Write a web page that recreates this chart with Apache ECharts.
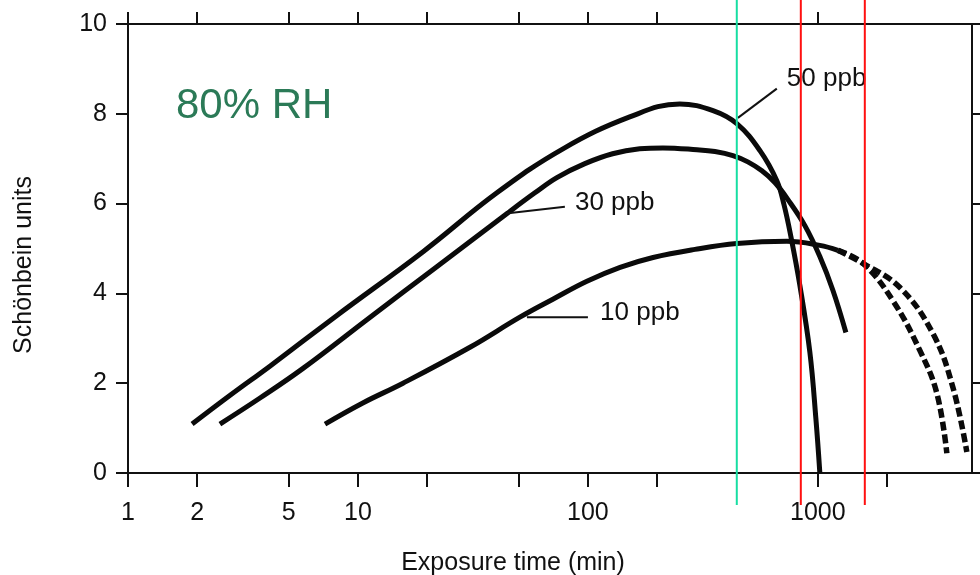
<!DOCTYPE html>
<html>
<head>
<meta charset="utf-8">
<script src="https://cdn.jsdelivr.net/npm/echarts@6/dist/echarts.min.js"></script>
<style>
  html, body { margin: 0; padding: 0; background: #ffffff; }
  #chart { width: 980px; height: 575px; }
</style>
</head>
<body>
<div id="chart"></div>
<script>
// Schönbein response vs. exposure time (log minutes) at 80% RH
const ppb50 = [
  [1.90, 1.09], [2.78, 1.73], [4.14, 2.38], [8.10, 3.51], [19.2, 4.93],
  [40.2, 6.24], [77.9, 7.22], [152, 7.93], [251, 8.22], [350, 8.07],
  [444, 7.78], [560, 7.18], [663, 6.51], [712, 5.98], [763, 5.27],
  [835, 4.18], [923, 2.69], [980, 1.22], [1020, 0]
];
const ppb30 = [
  [2.51, 1.09], [3.75, 1.67], [5.77, 2.33], [11.3, 3.47], [22.1, 4.60],
  [44.5, 5.78], [58.8, 6.24], [73.3, 6.58], [97.0, 6.89], [128, 7.11],
  [168, 7.22], [212, 7.24], [298, 7.20], [357, 7.16], [427, 7.07],
  [496, 6.93], [571, 6.73], [650, 6.47], [741, 6.09], [878, 5.51],
  [1020, 4.82], [1162, 4.07], [1324, 3.13]
];
const ppb10 = [
  [7.19, 1.09], [10.5, 1.56], [15.7, 2.00], [30.7, 2.80], [50.6, 3.47],
  [70.4, 3.87], [99, 4.27], [138, 4.58], [192, 4.80], [292, 4.98],
  [444, 5.11], [733, 5.16], [1020, 5.07], [1222, 4.96]
];
// extrapolated tails of the 10 ppb curve
const ppb10TailA = [[1222, 4.96], [1570, 4.67], [2119, 3.84], [2776, 2.73], [3290, 1.78], [3638, 0.44]];
const ppb10TailB = [[1222, 4.96], [1570, 4.67], [2274, 4.13], [3162, 3.11], [3864, 1.91], [4444, 0.47]];

// axis ticks and labels
const xTickBottom = [1, 2, 5, 10, 20, 50, 100, 200, 1000, 2000];
const xTickTop = [1, 2, 5, 10, 20, 50, 100, 200, 1000];
const xLabels = [1, 2, 5, 10, 100, 1000];
const xMin = 1, xMax = 4680;

// vertical time markers
const markerTimes = [444, 843, 1600];
const markerColors = ['#17dea2', '#ff1010', '#ff1010'];

// curve annotations
const labelNames = ['50 ppb', '30 ppb', '10 ppb'];
const labelAt = [[733, 8.78], [87.8, 6.02], [113, 3.56]];
const leaderFrom = [[663, 8.56], [79.4, 5.93], [100, 3.47]];
const leaderTo = [[449, 7.91], [44.0, 5.78], [54.3, 3.47]];

const FONT = '"Liberation Sans", Arial, Helvetica, sans-serif';
const INK = '#111111';

const chart = echarts.init(document.getElementById('chart'));

function curve(name, data, dashed) {
  return {
    name: name,
    type: 'line',
    data: data,
    xAxisIndex: 0,
    yAxisIndex: 0,
    smooth: 0.4,
    showSymbol: false,
    symbol: 'none',
    silent: true,
    lineStyle: {
      color: '#0a0a0a',
      width: dashed ? 5.5 : 5,
      type: dashed ? [9, 4] : 'solid',
      cap: 'butt',
      join: 'round'
    },
    z: 3
  };
}

const option = {
  backgroundColor: '#ffffff',
  animation: false,
  grid: { left: 128, right: 8, top: 24, bottom: 102, containLabel: false },
  xAxis: [
    {
      type: 'log', logBase: 10, min: xMin, max: xMax, position: 'bottom',
      axisLine: { show: true, onZero: false, lineStyle: { color: INK, width: 2 } },
      axisTick: { show: true, inside: false, length: 14, lineStyle: { color: INK, width: 2 }, customValues: xTickBottom },
      minorTick: { show: false },
      axisLabel: {
        show: true, margin: 28, color: INK, fontSize: 25, fontFamily: FONT,
        customValues: xLabels,
        formatter: v => String(Math.round(v))
      },
      splitLine: { show: false }
    },
    {
      type: 'log', logBase: 10, min: xMin, max: xMax, position: 'top',
      axisLine: { show: true, onZero: false, lineStyle: { color: INK, width: 2 } },
      axisTick: { show: true, inside: false, length: 12, lineStyle: { color: INK, width: 2 }, customValues: xTickTop },
      axisLabel: { show: false },
      splitLine: { show: false }
    }
  ],
  yAxis: [
    {
      type: 'value', min: 0, max: 10, interval: 2, position: 'left',
      axisLine: { show: true, onZero: false, lineStyle: { color: INK, width: 2 } },
      axisTick: { show: true, inside: false, length: 12, lineStyle: { color: INK, width: 2 } },
      axisLabel: { show: true, margin: 21, color: INK, fontSize: 25, fontFamily: FONT },
      splitLine: { show: false }
    },
    {
      type: 'value', min: 0, max: 10, interval: 2, position: 'right',
      axisLine: { show: true, onZero: false, lineStyle: { color: INK, width: 2 } },
      axisTick: { show: true, inside: false, length: 10, lineStyle: { color: INK, width: 2 } },
      axisLabel: { show: false },
      splitLine: { show: false }
    }
  ],
  graphic: [
    {
      type: 'text', x: 513, y: 563, silent: true,
      style: { text: 'Exposure time (min)', fill: INK, font: '25px ' + FONT, align: 'center', verticalAlign: 'middle' }
    },
    {
      type: 'text', x: 24, y: 265, rotation: Math.PI / 2, silent: true,
      style: { text: 'Schönbein units', fill: INK, font: '25px ' + FONT, align: 'center', verticalAlign: 'middle' }
    },
    {
      type: 'text', x: 176, y: 106, silent: true,
      style: { text: '80% RH', fill: '#2b7a57', font: '42px ' + FONT, align: 'left', verticalAlign: 'middle' }
    }
  ],
  series: [
    curve('50 ppb', ppb50, false),
    curve('30 ppb', ppb30, false),
    curve('10 ppb', ppb10, false),
    curve('10 ppb tail A', ppb10TailA, true),
    curve('10 ppb tail B', ppb10TailB, true),
    {
      // leader lines from labels to curves
      name: 'leaders',
      type: 'custom',
      coordinateSystem: 'cartesian2d',
      silent: true,
      data: leaderFrom.map((p, i) => [p[0], p[1], leaderTo[i][0], leaderTo[i][1]]),
      renderItem: function (params, api) {
        const a = api.coord([api.value(0), api.value(1)]);
        const b = api.coord([api.value(2), api.value(3)]);
        return {
          type: 'line',
          shape: { x1: a[0], y1: a[1], x2: b[0], y2: b[1] },
          style: { stroke: INK, lineWidth: 2 }
        };
      },
      z: 4
    },
    {
      // concentration labels
      name: 'labels',
      type: 'custom',
      coordinateSystem: 'cartesian2d',
      silent: true,
      data: labelAt.map(p => [p[0], p[1]]),
      renderItem: function (params, api) {
        const p = api.coord([api.value(0), api.value(1)]);
        return {
          type: 'text',
          x: p[0], y: p[1],
          style: {
            text: labelNames[params.dataIndex], fill: INK, font: '26px ' + FONT,
            align: 'left', verticalAlign: 'middle'
          }
        };
      },
      z: 4
    },
    {
      // vertical time markers, running past the plot frame
      name: 'markers',
      type: 'custom',
      coordinateSystem: 'cartesian2d',
      silent: true,
      clip: false,
      data: markerTimes.map(t => [t, 0]),
      renderItem: function (params, api) {
        const p = api.coord([api.value(0), 0]);
        return {
          type: 'line',
          shape: { x1: p[0], y1: 0, x2: p[0], y2: p[1] + 32 },
          style: { stroke: markerColors[params.dataIndex], lineWidth: 2 }
        };
      },
      z: 10
    }
  ]
};

chart.setOption(option);
</script>
</body>
</html>
